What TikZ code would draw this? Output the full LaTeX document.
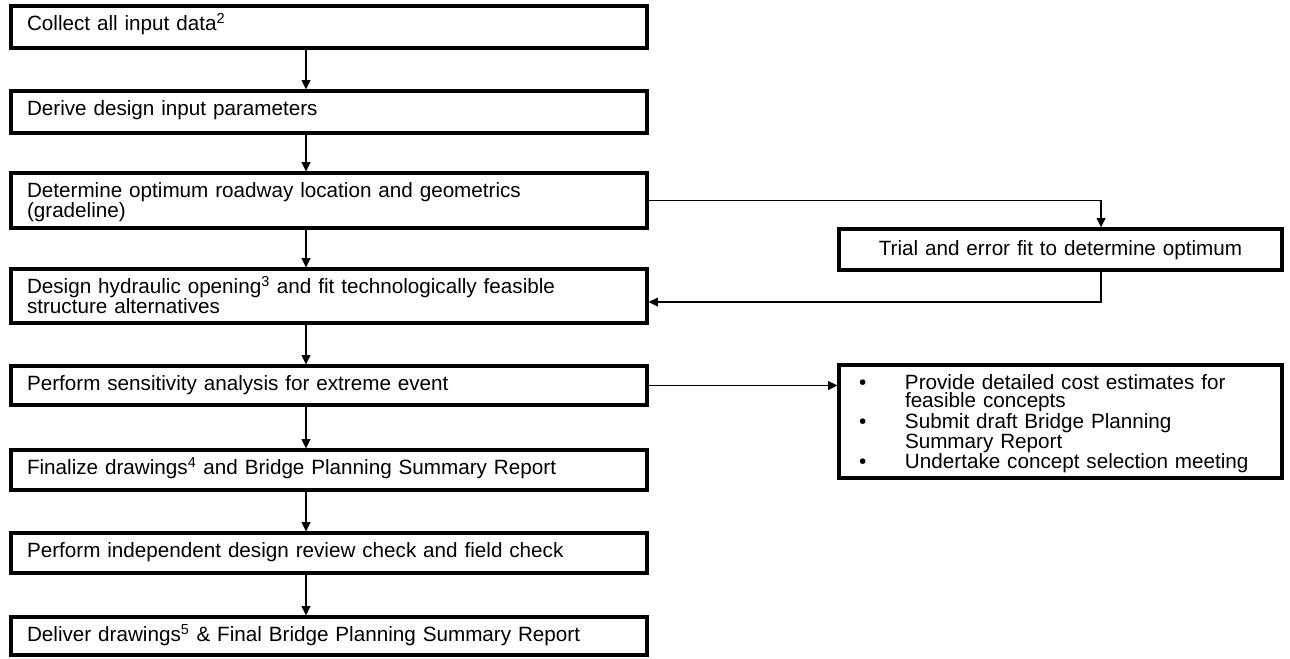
\documentclass[tikz,border=0pt]{standalone}
\usepackage{fontspec}
\setmainfont{Liberation Sans}
\usetikzlibrary{positioning, arrows.meta, calc}

\lineskiplimit=-6pt
\newcommand{\costbullet}{\makebox[34.5pt][l]{\textbullet}}
\newcommand{\costindent}{\hspace*{34.5pt}}

\begin{document}
\begin{tikzpicture}[
    x=0.75pt, y=-0.75pt,
    font=\fontsize{15.5}{14.25}\selectfont,
    stepbox/.style={
        draw=black, line width=2.4pt, anchor=north west, outer sep=0pt,
        align=left, inner xsep=12pt, inner ysep=0pt,
        text width=453pt, text height=18pt, text depth=#1
    },
    sidebox/.style={
        draw=black, line width=2.4pt, anchor=north west, outer sep=0pt,
        inner xsep=12pt, inner ysep=0pt,
        text width=308.25pt, text height=18pt, text depth=#1
    },
    flowarrow/.style={
        -{Triangle[length=7pt, width=6.5pt]},
        line width=1.3pt, draw=black, shorten >=1.2pt
    }
]
\useasboundingbox (0,0) rectangle (1290,658);

% --- Main column ---
\node[stepbox=13.5pt] (collect) at (11,6) {Collect all input data\textsuperscript{2}};
\node[stepbox=13.5pt] (derive) at (11,91) {Derive design input parameters};
\node[stepbox=23.25pt] (roadway) at (11,173)
    {Determine optimum roadway location and geometrics\\(gradeline)};
\node[stepbox=22.5pt] (hydraulic) at (11,269)
    {Design hydraulic opening\textsuperscript{3} and fit technologically feasible\\structure alternatives};
\node[stepbox=11.25pt] (sensitivity) at (11,366) {Perform sensitivity analysis for extreme event};
\node[stepbox=12pt] (finalize) at (11,450)
    {Finalize drawings\textsuperscript{4} and Bridge Planning Summary Report};
\node[stepbox=12pt] (review) at (11,533) {Perform independent design review check and field check};
\node[stepbox=10.5pt] (deliver) at (11,617)
    {Deliver drawings\textsuperscript{5} \& Final Bridge Planning Summary Report};

% --- Side boxes ---
\node[sidebox=11.25pt, text height=19.5pt, align=center] (trial) at (839,229)
    {Trial and error fit to determine optimum};
\node[sidebox=66.75pt, align=left, inner xsep=15pt, text width=302.25pt,
      font=\fontsize{15.5}{13.9}\selectfont] (cost) at (839,365) {%
    \costbullet Provide detailed cost estimates for\\
    \costindent feasible concepts\\
    \costbullet Submit draft Bridge Planning\\
    \costindent Summary Report\\
    \costbullet Undertake concept selection meeting
};

% --- Flow arrows ---
\draw[flowarrow] ([xshift=-17.25pt]collect.south) -- ([xshift=-17.25pt]derive.north);
\draw[flowarrow] ([xshift=-17.25pt]derive.south) -- ([xshift=-17.25pt]roadway.north);
\draw[flowarrow] ([xshift=-17.25pt]roadway.south) -- ([xshift=-17.25pt]hydraulic.north);
\draw[flowarrow] ([xshift=-17.25pt]hydraulic.south) -- ([xshift=-17.25pt]sensitivity.north);
\draw[flowarrow] ([xshift=-17.25pt]sensitivity.south) -- ([xshift=-17.25pt]finalize.north);
\draw[flowarrow] ([xshift=-17.25pt]finalize.south) -- ([xshift=-17.25pt]review.north);
\draw[flowarrow] ([xshift=-17.25pt]review.south) -- ([xshift=-17.25pt]deliver.north);

% side loop and branch
\draw[flowarrow] (roadway.east) -| ([xshift=30.4pt]trial.north);
\draw[flowarrow] ([xshift=30.4pt]trial.south) |- ([yshift=-4.5pt]hydraulic.east);
\draw[flowarrow] (sensitivity.east) -- (sensitivity.east -| cost.west);

\end{tikzpicture}
\end{document}
